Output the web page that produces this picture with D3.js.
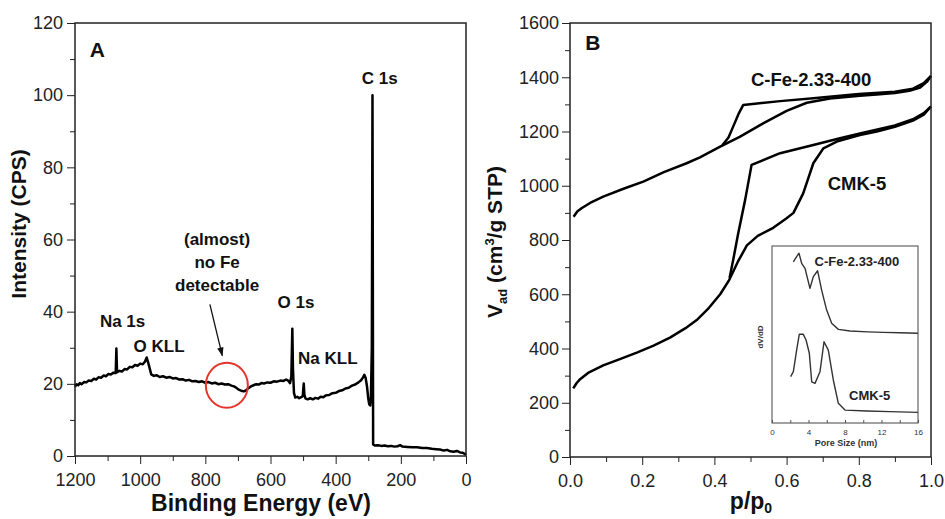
<!DOCTYPE html>
<html>
<head>
<meta charset="utf-8">
<script src="https://cdnjs.cloudflare.com/ajax/libs/d3/7.8.5/d3.min.js"></script>
<style>
body { margin: 0; background: #fff; }
svg text { font-family: "Liberation Sans", Arial, sans-serif; }
.axisTicks { color: #222; }
.axisTicks text { font-size: 18px; fill: #222; }
.insetTicks { color: #555; }
.insetTicks text { font-size: 8px; fill: #333; }
.axisTitle { font-size: 22px; font-weight: bold; fill: #111; }
.panelLetter { font-size: 21px; font-weight: bold; fill: #111; }
.peakLabel { font-size: 17px; font-weight: bold; fill: #111; }
.sampleLabel { font-size: 18.5px; font-weight: bold; fill: #111; }
.insetLabel { font-size: 13px; font-weight: bold; fill: #222; }
.insetTitle { font-size: 9px; font-weight: bold; fill: #333; }
.frame { fill: none; stroke: #222; stroke-width: 1.5; }
.curve { fill: none; stroke: #000; stroke-width: 2.5; stroke-linejoin: round; }
.insetCurve { fill: none; stroke: #333; stroke-width: 1.4; stroke-linejoin: round; }
</style>
</head>
<body>
<svg id="chart" width="945" height="519"></svg>
<script>
// ---------- Panel A: XPS survey (binding energy eV, counts CPS) ----------
var xpsSurvey = [
  [1200, 19.2], [1195, 19.9], [1190, 19.6], [1185, 20.2], [1180, 19.9], [1172, 20.5],
  [1165, 20.4], [1158, 20.9], [1150, 20.8], [1142, 21.4], [1135, 21.2], [1128, 21.8],
  [1120, 21.7], [1112, 22.3], [1105, 22.1], [1098, 22.7], [1090, 22.6], [1082, 23.1],
  [1075, 23.0], [1073, 29.8], [1071, 23.2], [1064, 23.6], [1056, 23.4], [1048, 24.1],
  [1040, 24.0], [1032, 24.7], [1024, 24.6], [1016, 25.2], [1008, 25.0], [1000, 25.6],
  [992, 25.4], [985, 26.2], [980, 27.3], [976, 26.1], [970, 24.0], [966, 22.6],
  [958, 22.2], [950, 22.4], [940, 21.9], [930, 22.1], [920, 21.7], [910, 21.9],
  [900, 21.5], [890, 21.6], [880, 21.2], [870, 21.3], [860, 20.9], [850, 21.1],
  [840, 20.7], [830, 20.8], [820, 20.5], [810, 20.7], [800, 20.3], [790, 20.5],
  [780, 20.1], [770, 20.3], [760, 19.9], [750, 20.1], [740, 19.8], [730, 19.9],
  [720, 19.5], [712, 19.3], [705, 18.9], [698, 18.4], [690, 18.1], [682, 17.9],
  [675, 18.2], [668, 18.8], [660, 19.3], [652, 19.6], [644, 19.9], [636, 19.8],
  [628, 20.2], [620, 20.1], [610, 20.4], [600, 20.3], [590, 20.7], [580, 20.6],
  [570, 20.9], [560, 20.8], [552, 21.2], [546, 20.9], [540, 20.2], [536, 22.0],
  [533, 35.3], [531, 24.0], [528, 17.5], [524, 16.2], [518, 16.4], [512, 16.0],
  [506, 16.3], [501, 16.6], [498, 20.1], [496, 17.0], [493, 16.0], [486, 15.7],
  [478, 16.0], [470, 15.7], [462, 16.1], [454, 15.9], [446, 16.4], [438, 16.3],
  [430, 16.8], [420, 16.9], [410, 17.4], [400, 17.5], [390, 18.0], [380, 18.2],
  [370, 18.7], [360, 18.9], [350, 19.5], [340, 19.8], [330, 20.4], [322, 21.0],
  [316, 21.8], [312, 22.5], [308, 21.6], [304, 19.4], [300, 16.0], [297, 14.3],
  [294, 14.0], [292, 15.5], [289, 30.0], [287, 100.0], [285, 3.2], [280, 2.9],
  [270, 3.0], [260, 2.8], [250, 2.9], [240, 2.7], [230, 2.8], [220, 2.6],
  [210, 2.7], [202, 3.0], [195, 2.6], [180, 2.5], [165, 2.4], [150, 2.4],
  [135, 2.2], [120, 2.2], [105, 2.0], [92, 1.9], [80, 1.8], [68, 1.5],
  [58, 1.7], [48, 1.3], [38, 1.2], [28, 1.4], [18, 1.0], [10, 0.9], [4, 0.6], [0, 0.3]
];
var xpsMajorTicksX = [1200, 1000, 800, 600, 400, 200, 0];
var xpsMinorTicksX = [1100, 900, 700, 500, 300, 100];
var xpsMajorTicksY = [0, 20, 40, 60, 80, 100, 120];
var xpsMinorTicksY = [10, 30, 50, 70, 90, 110];

// ---------- Panel B: N2 isotherms (p/p0, cm3/g STP) ----------
var cfeAdsorption = [
  [0.010, 886], [0.020, 905], [0.032, 917], [0.060, 940], [0.092, 960], [0.150, 990],
  [0.203, 1015], [0.260, 1050], [0.323, 1083], [0.360, 1105], [0.416, 1144],
  [0.470, 1180], [0.535, 1230], [0.600, 1276], [0.656, 1306], [0.720, 1322],
  [0.803, 1332], [0.850, 1336], [0.900, 1342], [0.940, 1350], [0.970, 1362],
  [0.990, 1385], [1.000, 1405]
];
var cfeDesorption = [
  [1.000, 1405], [0.980, 1378], [0.950, 1358], [0.900, 1347], [0.800, 1338],
  [0.674, 1323], [0.582, 1312], [0.480, 1298], [0.468, 1268], [0.452, 1218],
  [0.439, 1178], [0.422, 1149]
];
var cmkAdsorption = [
  [0.009, 253], [0.018, 272], [0.028, 287], [0.050, 310], [0.092, 338], [0.140, 362],
  [0.185, 385], [0.230, 410], [0.277, 440], [0.320, 475], [0.351, 505], [0.385, 550],
  [0.416, 600], [0.440, 650], [0.465, 720], [0.490, 780], [0.520, 815], [0.563, 845],
  [0.600, 880], [0.619, 900], [0.646, 972], [0.674, 1083], [0.702, 1138],
  [0.739, 1163], [0.803, 1187], [0.850, 1200], [0.900, 1217], [0.950, 1240],
  [0.980, 1262], [1.000, 1292]
];
var cmkDesorption = [
  [1.000, 1292], [0.980, 1268], [0.950, 1245], [0.900, 1222], [0.803, 1193],
  [0.748, 1175], [0.674, 1150], [0.582, 1120], [0.503, 1077], [0.485, 947],
  [0.466, 825], [0.452, 726], [0.442, 660]
];
var isoMajorTicksX = [0, 0.2, 0.4, 0.6, 0.8, 1.0];
var isoMinorTicksX = [0.1, 0.3, 0.5, 0.7, 0.9];
var isoMajorTicksY = [0, 200, 400, 600, 800, 1000, 1200, 1400, 1600];
var isoMinorTicksY = [100, 300, 500, 700, 900, 1100, 1300, 1500];

// ---------- Inset: pore size distribution (nm, dV/dD arbitrary units) ----------
var cfePoreSize = [
  [2.34, 0.911], [2.70, 0.940], [2.96, 0.959], [3.25, 0.902], [3.62, 0.874],
  [4.16, 0.761], [4.53, 0.827], [5.00, 0.860], [5.44, 0.751], [5.99, 0.638],
  [6.54, 0.563], [7.27, 0.529], [8.55, 0.520], [10.5, 0.515], [12.2, 0.512],
  [14.0, 0.510], [16.0, 0.507]
];
var cmkPoreSize = [
  [2.05, 0.262], [2.34, 0.290], [2.70, 0.412], [2.99, 0.501], [3.43, 0.501],
  [3.73, 0.469], [4.09, 0.394], [4.35, 0.233], [4.71, 0.224], [5.26, 0.290],
  [5.70, 0.459], [6.17, 0.412], [6.72, 0.243], [7.27, 0.111], [8.00, 0.073],
  [10.4, 0.068], [12.9, 0.064], [16.0, 0.060]
];
var poreMajorTicks = [0, 4, 8, 12, 16];
var poreMinorTicks = [2, 6, 10, 14];

var svg = d3.select("#chart");

svg.append("defs").append("marker")
  .attr("id", "arrowHead")
  .attr("viewBox", "0 0 10 10")
  .attr("refX", 9).attr("refY", 5)
  .attr("markerWidth", 7).attr("markerHeight", 7)
  .attr("orient", "auto")
  .append("path")
  .attr("d", "M0,1.5 L10,5 L0,8.5 Z")
  .attr("fill", "#111");

/**
 * Draws one axis with long labelled ticks and short unlabelled ticks.
 */
function addAxis(g, axisFn, scale, majors, minors, fmt, shift, bigTick, smallTick, pad, cls) {
  g.append("g")
    .attr("class", cls)
    .attr("transform", shift)
    .call(axisFn(scale).tickValues(minors).tickSize(smallTick).tickFormat(""))
    .call(function(a) { a.select(".domain").remove(); });
  g.append("g")
    .attr("class", cls)
    .attr("transform", shift)
    .call(axisFn(scale).tickValues(majors).tickSize(bigTick).tickPadding(pad).tickFormat(fmt))
    .call(function(a) { a.select(".domain").remove(); });
}

function frame(g, x, y) {
  g.append("rect")
    .attr("class", "frame")
    .attr("x", Math.min(x.range()[0], x.range()[1]))
    .attr("y", y.range()[1])
    .attr("width", Math.abs(x.range()[1] - x.range()[0]))
    .attr("height", y.range()[0] - y.range()[1]);
}

// ================= Panel A =================
var xA = d3.scaleLinear().domain([1200, 0]).range([75, 466]);
var yA = d3.scaleLinear().domain([0, 120]).range([456, 23]);
var gA = svg.append("g");

addAxis(gA, d3.axisBottom, xA, xpsMajorTicksX, xpsMinorTicksX, d3.format("d"),
  "translate(0," + yA(0) + ")", 8, 5, 9, "axisTicks");
addAxis(gA, d3.axisLeft, yA, xpsMajorTicksY, xpsMinorTicksY, d3.format("d"),
  "translate(" + xA(1200) + ",0)", 8, 5, 4, "axisTicks");

var lineA = d3.line().x(function(d) { return xA(d[0]); }).y(function(d) { return yA(d[1]); });
gA.append("path").datum(xpsSurvey).attr("class", "curve").attr("stroke-width", 2.9).attr("d", lineA);
frame(gA, xA, yA);

gA.append("text").attr("class", "panelLetter").attr("x", xA(1155)).attr("y", yA(110.5)).text("A");

function peakLabel(g, txt, be, cps) {
  g.append("text").attr("class", "peakLabel").attr("text-anchor", "middle")
    .attr("x", xA(be)).attr("y", yA(cps)).text(txt);
}
peakLabel(gA, "C 1s", 265, 103);
peakLabel(gA, "(almost)", 764, 58.6);
peakLabel(gA, "no Fe", 764, 52.2);
peakLabel(gA, "detectable", 764, 45.8);
peakLabel(gA, "O 1s", 522, 41.0);
peakLabel(gA, "Na 1s", 1054, 35.8);
peakLabel(gA, "O KLL", 942, 28.8);
peakLabel(gA, "Na KLL", 424, 25.5);

// arrow and red ring marking the Fe 2p region
gA.append("line")
  .attr("x1", xA(786)).attr("y1", yA(42))
  .attr("x2", xA(748)).attr("y2", yA(27.8))
  .attr("stroke", "#111").attr("stroke-width", 1.3)
  .attr("marker-end", "url(#arrowHead)");
gA.append("ellipse")
  .attr("cx", xA(734)).attr("cy", yA(19.6))
  .attr("rx", 21).attr("ry", 22.5)
  .attr("fill", "none").attr("stroke", "#e5352b").attr("stroke-width", 2);

gA.append("text").attr("class", "axisTitle").attr("text-anchor", "middle")
  .attr("x", 261).attr("y", 511).style("font-size", "23px").text("Binding Energy (eV)");
gA.append("text").attr("class", "axisTitle").attr("text-anchor", "middle")
  .attr("transform", "translate(26,224) rotate(-90)").style("font-size", "21px")
  .text("Intensity (CPS)");

// ================= Panel B =================
var xB = d3.scaleLinear().domain([0, 1]).range([570, 931]);
var yB = d3.scaleLinear().domain([0, 1600]).range([457, 23]);
var gB = svg.append("g");

addAxis(gB, d3.axisBottom, xB, isoMajorTicksX, isoMinorTicksX, d3.format(".1f"),
  "translate(0," + yB(0) + ")", 8, 5, 9, "axisTicks");
addAxis(gB, d3.axisLeft, yB, isoMajorTicksY, isoMinorTicksY, d3.format("d"),
  "translate(" + xB(0) + ",0)", 8, 5, 3, "axisTicks");

var lineB = d3.line().x(function(d) { return xB(d[0]); }).y(function(d) { return yB(d[1]); });
[cfeAdsorption, cfeDesorption, cmkAdsorption, cmkDesorption].forEach(function(branch) {
  gB.append("path").datum(branch).attr("class", "curve").attr("d", lineB);
});

// inset with pore size distributions
var xI = d3.scaleLinear().domain([0, 16]).range([772, 918]);
var yI = d3.scaleLinear().domain([0, 1]).range([423, 246]);
var gI = gB.append("g");
gI.append("rect").attr("x", xI(0)).attr("y", yI(1)).attr("width", xI(16) - xI(0))
  .attr("height", yI(0) - yI(1)).attr("fill", "#fff").attr("stroke", "none");
addAxis(gI, d3.axisBottom, xI, poreMajorTicks, poreMinorTicks, d3.format("d"),
  "translate(0," + yI(0) + ")", -3, -3, 6, "insetTicks");
var lineI = d3.line().x(function(d) { return xI(d[0]); }).y(function(d) { return yI(d[1]); });
gI.append("path").datum(cfePoreSize).attr("class", "insetCurve").attr("d", lineI);
gI.append("path").datum(cmkPoreSize).attr("class", "insetCurve").attr("d", lineI);
gI.append("rect").attr("x", xI(0)).attr("y", yI(1)).attr("width", xI(16) - xI(0))
  .attr("height", yI(0) - yI(1)).attr("fill", "none").attr("stroke", "#555").attr("stroke-width", 1.1);
gI.append("text").attr("class", "insetLabel").attr("text-anchor", "middle")
  .attr("x", xI(9.3)).attr("y", yI(0.887)).text("C-Fe-2.33-400");
gI.append("text").attr("class", "insetLabel").attr("text-anchor", "middle")
  .attr("x", xI(10.7)).attr("y", yI(0.13)).text("CMK-5");
gI.append("text").attr("class", "insetTitle").attr("text-anchor", "middle")
  .attr("x", xI(8.1)).attr("y", 446).text("Pore Size (nm)");
gI.append("text").attr("class", "insetTitle").attr("text-anchor", "middle")
  .attr("transform", "translate(763,337) rotate(-90)").style("font-size", "8px").text("dV/dD");

frame(gB, xB, yB);

gB.append("text").attr("class", "panelLetter").attr("x", xB(0.042)).attr("y", yB(1500)).text("B");
gB.append("text").attr("class", "sampleLabel").attr("text-anchor", "middle")
  .attr("x", xB(0.668)).attr("y", yB(1368)).text("C-Fe-2.33-400");
gB.append("text").attr("class", "sampleLabel").attr("text-anchor", "middle")
  .attr("x", xB(0.795)).attr("y", yB(984)).text("CMK-5");

var xTitle = gB.append("text").attr("class", "axisTitle").attr("text-anchor", "middle")
  .attr("x", 751).attr("y", 509).style("font-size", "23px");
xTitle.append("tspan").text("p/p");
xTitle.append("tspan").attr("dy", 4).style("font-size", "14px").text("0");

var yTitle = gB.append("text").attr("class", "axisTitle").attr("text-anchor", "middle")
  .attr("transform", "translate(502,242) rotate(-90)").style("font-size", "21px");
yTitle.append("tspan").text("V");
yTitle.append("tspan").attr("dy", 5).style("font-size", "13px").text("ad");
yTitle.append("tspan").attr("dy", -5).text(" (cm");
yTitle.append("tspan").attr("dy", -8).style("font-size", "13px").text("3");
yTitle.append("tspan").attr("dy", 8).text("/g STP)");
</script>
</body>
</html>
